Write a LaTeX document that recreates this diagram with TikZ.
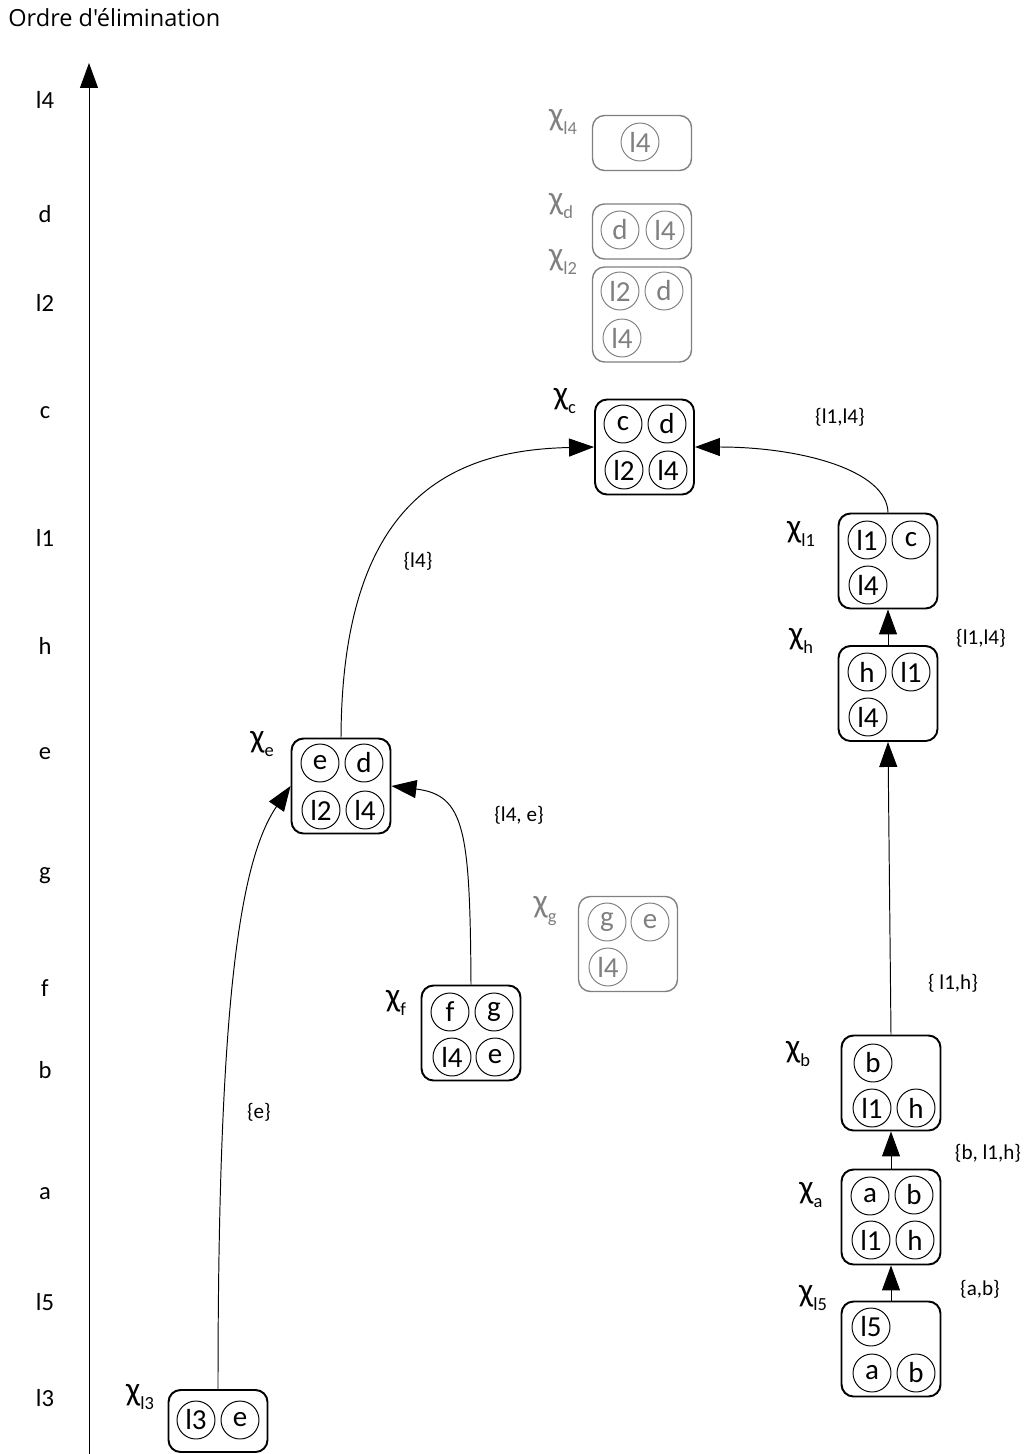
\documentclass[tikz,border=0pt]{standalone}
\usepackage{fontspec}
\setmainfont{Carlito}
\newfontfamily\titlefont{Open Sans}
\usepackage{xcolor}
\usepackage{tikz}
\usetikzlibrary{arrows.meta}
\definecolor{faded}{RGB}{128,128,128}
\newcommand{\chisub}[1]{χ\raisebox{-0.6ex}{\fontsize{10.5}{10.5}\selectfont #1}}
\tikzset{
  clique/.style={draw, line width=1.1pt, rounded corners=0.24cm, minimum width=1.98cm, minimum height=1.9cm, inner sep=0pt},
  fclique/.style={clique, draw=faded, line width=0.8pt},
  var/.style={draw, circle, line width=0.55pt, minimum size=0.76cm, inner sep=0pt, font=\fontsize{16.5}{16.5}\selectfont},
  fvar/.style={var, draw=faded, text=faded},
  chilab/.style={inner sep=0pt, font=\fontsize{19}{19}\selectfont},
  fchilab/.style={chilab, text=faded},
  sepset/.style={inner sep=0pt, font=\fontsize{12}{12}\selectfont},
  ordre/.style={inner sep=0pt, font=\fontsize{14}{14}\selectfont},
  fleche/.style={-{Triangle[length=0.5cm,width=0.36cm]}, line width=0.55pt}
}

\begin{document}
\begin{tikzpicture}[x=0.02cm, y=-0.02cm]
\useasboundingbox (0,0) rectangle (1029,1454);
\node [anchor=west, inner sep=0pt, font=\titlefont\fontsize{13.4}{13.4}\selectfont] (titre) at (8,18) {Ordre d'élimination};
\coordinate (bas) at (89,1454);
\coordinate (haut) at (89,63);
\draw [fleche] (bas) -- (haut);
\node [ordre] (o-l4) at (45,100) {l4};
\node [ordre] (o-d) at (45,214) {d};
\node [ordre] (o-l2) at (45,303) {l2};
\node [ordre] (o-c) at (45,413) {c};
\node [ordre] (o-l1) at (45,538) {l1};
\node [ordre] (o-h) at (45,646) {h};
\node [ordre] (o-e) at (45,754) {e};
\node [ordre] (o-g) at (45,876) {g};
\node [ordre] (o-f) at (45,988) {f};
\node [ordre] (o-b) at (45,1070) {b};
\node [ordre] (o-a) at (45,1194) {a};
\node [ordre] (o-l5) at (45,1302) {l5};
\node [ordre] (o-l3) at (45,1398) {l3};

\node [fclique, minimum height=1.1cm] (Xl4) at (642,143) {};
\node [fvar] (Xl4-l4) at (640,142) {l4};
\node [fchilab] (nXl4) at (563,122) {\chisub{l4}};
\node [fclique, minimum height=1.1cm] (Xd) at (642,231.5) {};
\node [fvar] (Xd-d) at (620,230) {d};
\node [fvar] (Xd-l4) at (665,230) {l4};
\node [fchilab] (nXd) at (561,206) {\chisub{d}};
\node [fclique] (Xl2) at (642,314.5) {};
\node [fvar] (Xl2-l2) at (620,291) {l2};
\node [fvar] (Xl2-d) at (664,291) {d};
\node [fvar] (Xl2-l4) at (622,338) {l4};
\node [fchilab] (nXl2) at (563,262) {\chisub{l2}};

\node [clique] (Xc) at (644.5,447) {};
\node [var] (Xc-c) at (623,424) {c};
\node [var] (Xc-d) at (667,424) {d};
\node [var] (Xc-l2) at (624,470) {l2};
\node [var] (Xc-l4) at (668,470) {l4};
\node [chilab] (nXc) at (565,401) {\chisub{c}};

\node [clique] (Xl1) at (888,561) {};
\node [var] (Xl1-l1) at (867,540) {l1};
\node [var] (Xl1-c) at (911,540) {c};
\node [var] (Xl1-l4) at (868,585) {l4};
\node [chilab] (nXl1) at (801,534) {\chisub{l1}};
\node [clique] (Xh) at (888,693.5) {};
\node [var] (Xh-h) at (867,672) {h};
\node [var] (Xh-l1) at (911,672) {l1};
\node [var] (Xh-l4) at (868,717) {l4};
\node [chilab] (nXh) at (801,641) {\chisub{h}};

\node [clique] (Xe) at (341,786) {};
\node [var] (Xe-e) at (320,763) {e};
\node [var] (Xe-d) at (364,763) {d};
\node [var] (Xe-l2) at (321,810) {l2};
\node [var] (Xe-l4) at (365,810) {l4};
\node [chilab] (nXe) at (262,744) {\chisub{e}};
\node [fclique] (Xg) at (628,944) {};
\node [fvar] (Xg-g) at (607,922) {g};
\node [fvar] (Xg-e) at (650,922) {e};
\node [fvar] (Xg-l4) at (608,967) {l4};
\node [fchilab] (nXg) at (545,911) {\chisub{g}};
\node [clique] (Xf) at (471,1033) {};
\node [var] (Xf-f) at (450,1012) {f};
\node [var] (Xf-g) at (494,1012) {g};
\node [var] (Xf-l4) at (452,1057) {l4};
\node [var] (Xf-e) at (495,1057) {e};
\node [chilab] (nXf) at (396,1003) {\chisub{f}};

\node [clique] (Xb) at (891,1083) {};
\node [var] (Xb-b) at (873,1063) {b};
\node [var] (Xb-l1) at (872,1108) {l1};
\node [var] (Xb-h) at (916,1108) {h};
\node [chilab] (nXb) at (798,1054) {\chisub{b}};
\node [clique] (Xa) at (891,1217) {};
\node [var] (Xa-a) at (870,1196) {a};
\node [var] (Xa-b) at (914,1195) {b};
\node [var] (Xa-l1) at (871,1240) {l1};
\node [var] (Xa-h) at (915,1240) {h};
\node [chilab] (nXa) at (811,1195) {\chisub{a}};
\node [clique] (Xl5) at (891,1349) {};
\node [var] (Xl5-l5) at (871,1327) {l5};
\node [var] (Xl5-a) at (872,1373) {a};
\node [var] (Xl5-b) at (916,1373) {b};
\node [chilab] (nXl5) at (813,1298) {\chisub{l5}};
\node [clique, minimum height=1.24cm] (Xl3) at (218,1421) {};
\node [var] (Xl3-l3) at (196,1420) {l3};
\node [var] (Xl3-e) at (240,1420) {e};
\node [chilab] (nXl3) at (140,1397) {\chisub{l3}};

\draw [fleche] (Xl3.north) .. controls (218,1000) and (240,860) .. (Xe.west);
\draw [fleche] (Xf.north) .. controls (470,830) and (465,795) .. (Xe.east);
\draw [fleche] (Xe.north) .. controls (342,500) and (450,450) .. (Xc.west);
\draw [fleche] (Xl1.north) .. controls (887,470) and (800,447) .. (Xc.east);
\draw [fleche] (Xh) -- (Xl1);
\draw [fleche] (Xb.north) -- (Xh.south);
\draw [fleche] (Xa) -- (Xb);
\draw [fleche] (Xl5) -- (Xa);

\node [sepset] (s-e) at (259,1112) {\{e\}};
\node [sepset] (s-fe) at (519,815) {\{l4, e\}};
\node [sepset] (s-ec) at (418,561) {\{l4\}};
\node [sepset] (s-l1c) at (840,417) {\{l1,l4\}};
\node [sepset] (s-hl1) at (981,638) {\{l1,l4\}};
\node [sepset] (s-bh) at (953,983) {\{ l1,h\}};
\node [sepset] (s-ab) at (988,1153) {\{b, l1,h\}};
\node [sepset] (s-l5a) at (980,1289) {\{a,b\}};
\end{tikzpicture}
\end{document}
